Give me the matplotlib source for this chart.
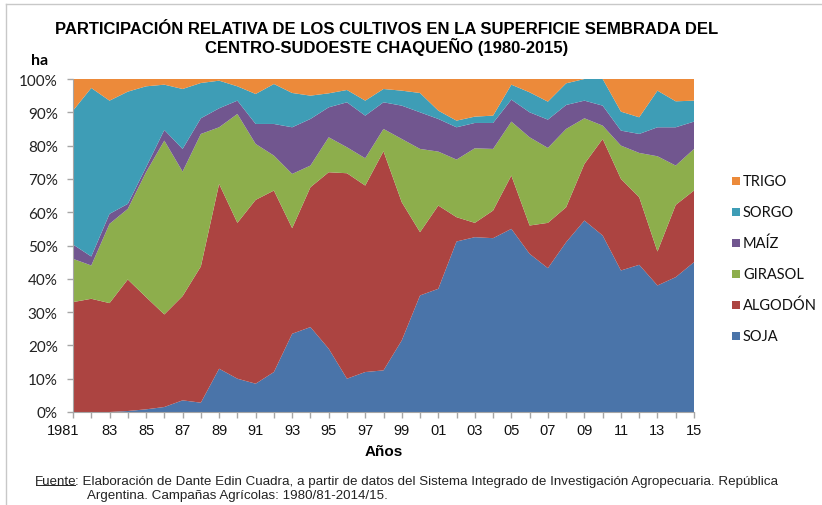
import matplotlib
matplotlib.use('Agg')
import matplotlib.pyplot as plt
from matplotlib.lines import Line2D
from matplotlib.patches import Rectangle

years = list(range(1981, 2016))
tick_labels = ['1981', '83', '85', '87', '89', '91', '93', '95', '97', '99',
               '01', '03', '05', '07', '09', '11', '13', '15']

# participación relativa (%) de cada cultivo por campaña
soja = [0, 0, 0, 0.3, 0.8, 1.5, 3.5, 2.8, 13, 10, 8.5, 12, 23.5, 25.5, 19, 10, 12, 12.5,
        21.5, 35, 37, 51.2, 52.5, 52.2, 55, 47.5, 43.2, 51, 57.5, 53, 42.5, 44.2, 38, 40.5, 45]
algodon = [33, 34, 32.7, 39.5, 33.7, 27.8, 31.3, 40.9, 55.5, 46.8, 55.2, 54.5, 31.7, 42, 53, 61.7, 56, 65.8,
           41.5, 19, 25, 7.3, 4.3, 8.3, 16, 8.5, 13.6, 10.5, 17, 29, 27.5, 20.3, 10.2, 21.7, 21.5]
girasol = [13, 10, 23.8, 21.2, 37.5, 52.2, 37.4, 39.8, 17, 32.7, 16.8, 10.5, 16.3, 6.5, 10.5, 7.8, 8.2, 6.7,
           19, 25, 16.2, 17.3, 22.4, 18.5, 16.2, 26.5, 22.5, 23.5, 13.7, 4, 10, 13.3, 28.6, 11.8, 12.5]
maiz = [4.3, 2.7, 3, 1.5, 1.5, 3.2, 6.8, 4.7, 5.7, 4, 6, 9.5, 14, 14, 9, 13.5, 12.8, 8,
        10, 11, 9.8, 9.7, 7.6, 7.8, 6.6, 7.5, 8.5, 7.2, 5.3, 6, 4.5, 5.7, 8.7, 11.5, 8.2]
sorgo = [40.2, 50.6, 34, 33.7, 24.3, 13.6, 18, 10.6, 8.3, 4.3, 9, 12, 10.3, 7, 4.2, 3.7, 4.5, 4,
         4.5, 5.8, 2.5, 2, 1.9, 2.2, 4.5, 6, 5.4, 6.5, 6.5, 8, 5.7, 5, 11, 7.8, 6.3]
trigo = [9.5, 2.7, 6.5, 3.8, 2.2, 1.7, 3, 1.2, 0.5, 2.2, 4.5, 1.5, 4.2, 5, 4.3, 3.3, 6.5, 3,
         3.5, 4.2, 9.5, 12.5, 11.3, 11, 1.7, 4, 6.8, 1.3, 0, 0, 9.8, 11.5, 3.5, 6.7, 6.5]

series = [soja, algodon, girasol, maiz, sorgo, trigo]
labels = ['SOJA', 'ALGODÓN', 'GIRASOL', 'MAÍZ', 'SORGO', 'TRIGO']
colors = ['#4A74A9', '#AC4441', '#8DAE4C', '#71568F', '#3E9DB6', '#EC8A3A']

W, H = 822, 506
fig = plt.figure(figsize=(W / 100, H / 100), dpi=100)
ax = fig.add_axes((73 / W, 1 - 413 / H, (694 - 73) / W, (413 - 80) / H))

ax.stackplot(years, *series, colors=colors, linewidth=0)
ax.set_xlim(1981, 2015)
ax.set_ylim(0, 100)

tick_font = dict(fontsize=10.5, family='Liberation Sans', color='#111111')
ax.set_xticks(years, minor=True)
ax.set_xticks(years[::2])
# the first year label sits a bit left of its tick in the original, so it is drawn apart
ax.set_xticklabels([''] + tick_labels[1:], **tick_font)
ax.annotate(tick_labels[0], xy=(years[0], 0), xycoords=('data', 'axes fraction'),
            xytext=(-7, -8), textcoords='offset points', ha='center', va='top', **tick_font)
ax.set_yticks(range(0, 101, 10))
ax.set_yticklabels([f'{v}%' for v in range(0, 101, 10)], fontsize=11, family='Lato', color='#222222')

for side in ['top', 'right']:
    ax.spines[side].set_visible(False)
for side in ['left', 'bottom']:
    ax.spines[side].set_color('#A6A6A6')
ax.tick_params(axis='both', which='both', direction='out', color='#A6A6A6', length=4, width=1)
ax.tick_params(axis='x', pad=4)
ax.tick_params(axis='y', pad=7)

ax.set_xlabel('Años', fontsize=11, fontweight='bold', family='Liberation Sans', labelpad=5)

# legend, drawn by hand from top to bottom
for k, (lab, col) in enumerate(zip(labels[::-1], colors[::-1])):
    yc = 1 - (182 + 31 * k) / H
    fig.patches.append(Rectangle((732 / W, yc - 4 / H), 8 / W, 8 / H, transform=fig.transFigure,
                                 color=col, linewidth=0))
    fig.text(743 / W, yc, lab, ha='left', va='center', fontsize=10.5, family='Lato', color='#111111')

fig.text(387 / W, 1 - 30 / H, 'PARTICIPACIÓN RELATIVA DE LOS CULTIVOS EN LA SUPERFICIE SEMBRADA DEL',
         ha='center', va='center', fontsize=12, fontweight='bold', family='Liberation Sans')
fig.text(387 / W, 1 - 47 / H, 'CENTRO-SUDOESTE CHAQUEÑO (1980-2015)',
         ha='center', va='center', fontsize=12, fontweight='bold', family='Liberation Sans')
fig.text(40 / W, 1 - 61 / H, 'ha', ha='center', va='center', fontsize=11.5,
         fontweight='bold', family='Lato')

# source note
note_font = dict(fontsize=9.6, family='Liberation Sans', color='#222222')
src = fig.text(35 / W, 1 - 482 / H, 'Fuente', ha='left', va='center', **note_font)
fig.canvas.draw()
bb = src.get_window_extent().transformed(fig.transFigure.inverted())
fig.text(bb.x1 - 2 / W, 1 - 482 / H, ': Elaboración de Dante Edin Cuadra, a partir de datos del Sistema '
         'Integrado de Investigación Agropecuaria. República', ha='left', va='center', **note_font)
fig.text(87 / W, 1 - 496 / H, 'Argentina. Campañas Agrícolas: 1980/81-2014/15.', ha='left',
         va='center', **note_font)
fig.lines.append(Line2D([bb.x0 + 1 / W, bb.x1 - 2 / W], [bb.y0 + 2 / H, bb.y0 + 2 / H],
                        transform=fig.transFigure, color='#222222', linewidth=0.7))

# chart border
fig.lines.append(Line2D([6 / W, 1], [1 - 5 / H, 1 - 5 / H], transform=fig.transFigure,
                        color='#C8C8C8', linewidth=1))
fig.lines.append(Line2D([6 / W, 6 / W], [0, 1 - 5 / H], transform=fig.transFigure,
                        color='#C8C8C8', linewidth=1))

fig.savefig('out.png', dpi=100)
